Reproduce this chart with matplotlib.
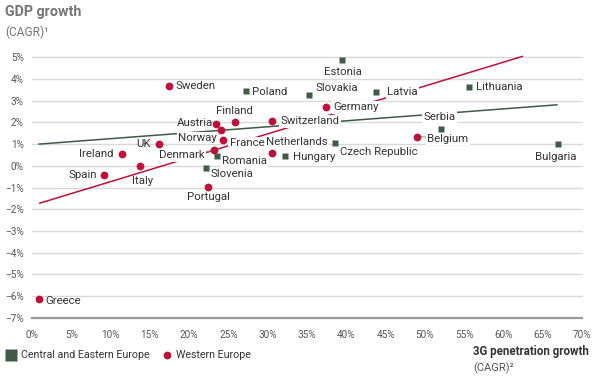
import matplotlib
matplotlib.use("Agg")
import matplotlib.pyplot as plt

plt.rcParams['font.family'] = ['Roboto', 'DejaVu Sans']

# ---- data ----
cee_names = ["Estonia", "Poland", "Slovakia", "Latvia", "Lithuania", "Serbia",
             "Czech Republic", "Bulgaria", "Romania", "Hungary", "Slovenia"]
cee_x = [39.5, 27.2, 35.2, 43.8, 55.6, 52.0, 38.5, 66.9, 23.6, 32.2, 22.1]
cee_y = [4.88, 3.46, 3.24, 3.40, 3.65, 1.71, 1.05, 1.00, 0.46, 0.43, -0.12]

we_names = ["Sweden", "Austria", "Finland", "Norway", "France", "Switzerland",
            "Germany", "Netherlands", "UK", "Ireland", "Denmark", "Belgium",
            "Italy", "Spain", "Portugal", "Greece"]
we_x = [17.4, 23.4, 25.8, 24.0, 24.3, 30.6, 37.4, 30.6, 16.1, 11.4, 23.2, 49.0,
        13.8, 9.2, 22.4, 0.9]
we_y = [3.69, 1.93, 2.00, 1.66, 1.17, 2.07, 2.70, 0.58, 1.00, 0.54, 0.71, 1.35,
        0.00, -0.41, -0.98, -6.13]

cee_trend_x = [0.9, 66.8]
cee_trend_y = [1.00, 2.81]
we_trend_x = [1.0, 62.4]
we_trend_y = [-1.72, 5.04]

x_ticks = [0, 5, 10, 15, 20, 25, 30, 35, 40, 45, 50, 55, 60, 65, 70]
y_ticks = [-7, -6, -5, -4, -3, -2, -1, 0, 1, 2, 3, 4, 5]

# ---- styling / layout ----
GREEN = "#3f5a45"
RED = "#c0103a"
LABEL_C = "#333333"
TICK_C = "#555555"

# label offsets in pixels (dx, dy, ha, boxed, leader)
offsets = {
    "Sweden": (7, 0, "left", False, False),
    "Poland": (6.3, -1, "left", False, False),
    "Austria": (-2.7, 1, "right", False, False),
    "Finland": (0, 11.7, "center", False, False),
    "Norway": (-3.7, -8.3, "right", True, False),
    "France": (6.7, -2.8, "left", True, False),
    "Switzerland": (8.3, -0.5, "left", True, False),
    "Netherlands": (24.3, 11.6, "center", True, False),
    "Hungary": (8, -0.3, "left", False, False),
    "UK": (-7.3, 0.3, "right", False, False),
    "Ireland": (-7.7, 0.3, "right", False, False),
    "Denmark": (-9.3, -5, "right", True, True),
    "Romania": (4.7, -4.7, "left", True, False),
    "Slovenia": (5, -6, "left", False, False),
    "Spain": (-7.3, 0, "right", False, False),
    "Italy": (2, -15, "center", False, False),
    "Portugal": (0.7, -10, "center", False, False),
    "Greece": (6, -1.7, "left", False, False),
    "Estonia": (0.3, -11.7, "center", False, False),
    "Slovakia": (28.4, 7.4, "center", False, False),
    "Latvia": (11, -0.4, "left", True, False),
    "Germany": (8, 0, "left", True, False),
    "Serbia": (-1.4, 11.3, "center", True, False),
    "Belgium": (10.4, -2, "left", True, True),
    "Czech Republic": (6, -9, "left", False, False),
    "Lithuania": (7.4, 0, "left", False, False),
    "Bulgaria": (-1.7, -12.4, "center", False, False),
}

W, H = 600, 377
fig = plt.figure(figsize=(6.0, 3.77), dpi=100)
ax = fig.add_axes([32 / W, 1 - 317.7 / H, 550 / W, (317.7 - 57.3) / H])
ax.set_xlim(0, 70)
ax.set_ylim(-7, 5)
for s in ax.spines.values():
    s.set_visible(False)

for yv in y_ticks:
    if yv == -7:
        ax.axhline(yv, color="#9a9a9a", lw=1.6, zorder=1, clip_on=False)
    else:
        ax.axhline(yv, color="#d9d9d9", lw=1.0, zorder=1, clip_on=False)

ax.set_xticks(x_ticks)
ax.set_xticklabels([f"{v}%" for v in x_ticks])
ax.set_yticks(y_ticks)
ax.set_yticklabels([f"{v}%".replace("-", "\u2212") for v in y_ticks])
ax.tick_params(length=0, labelsize=7.2, colors=TICK_C, pad=6)
ax.tick_params(axis="x", pad=9)

ax.plot(cee_trend_x, cee_trend_y, color=GREEN, lw=1.1, zorder=2, clip_on=False)
ax.plot(we_trend_x, we_trend_y, color=RED, lw=1.1, zorder=2, clip_on=False)

ax.plot(cee_x, cee_y, ls="none", marker="s", ms=5.0, color=GREEN,
        mec="none", zorder=5, clip_on=False)
ax.plot(we_x, we_y, ls="none", marker="o", ms=5.6, color=RED,
        mec="none", zorder=5, clip_on=False)

def label(names, xs, ys):
    for n, xv, yv in zip(names, xs, ys):
        dx, dy, ha, boxed, leader = offsets[n]
        kw = {}
        if boxed:
            kw["bbox"] = dict(boxstyle="square,pad=0.12", fc="white", ec="none")
        if leader:
            kw["arrowprops"] = dict(arrowstyle="-", color="#888888", lw=0.7,
                                    shrinkA=0, shrinkB=3)
        ax.annotate(n, (xv, yv), xytext=(dx, dy), textcoords="offset pixels",
                    ha=ha, va="center", fontsize=8.2, color=LABEL_C,
                    zorder=4, annotation_clip=False, **kw)

label(cee_names, cee_x, cee_y)
label(we_names, we_x, we_y)

# overlay for titles and legend
ov = fig.add_axes([0, 0, 1, 1], zorder=-1)
ov.set_xlim(0, W)
ov.set_ylim(H, 0)
ov.axis("off")

ov.text(5, 12, "GDP growth", fontsize=10.3, fontweight="bold", color="#757575",
        ha="left", va="center")
ov.text(5, 32, "(CAGR)\u00b9", fontsize=8.6, color="#757575", ha="left", va="center")
ov.text(473, 351, "3G penetration growth", fontsize=8.3, fontweight="bold",
        color="#333333", ha="left", va="center")
ov.text(473, 368, "(CAGR)\u00b2", fontsize=8, color="#555555", ha="left", va="center")

ov.plot([11], [355], marker="s", ms=9, color=GREEN, mec="none", ls="none")
ov.text(21, 355, "Central and Eastern Europe", fontsize=7.7, color=LABEL_C,
        ha="left", va="center")
ov.plot([167], [355], marker="o", ms=5.6, color=RED, mec="none", ls="none")
ov.text(176, 355, "Western Europe", fontsize=7.7, color=LABEL_C,
        ha="left", va="center")

fig.savefig("out.png", dpi=100)
